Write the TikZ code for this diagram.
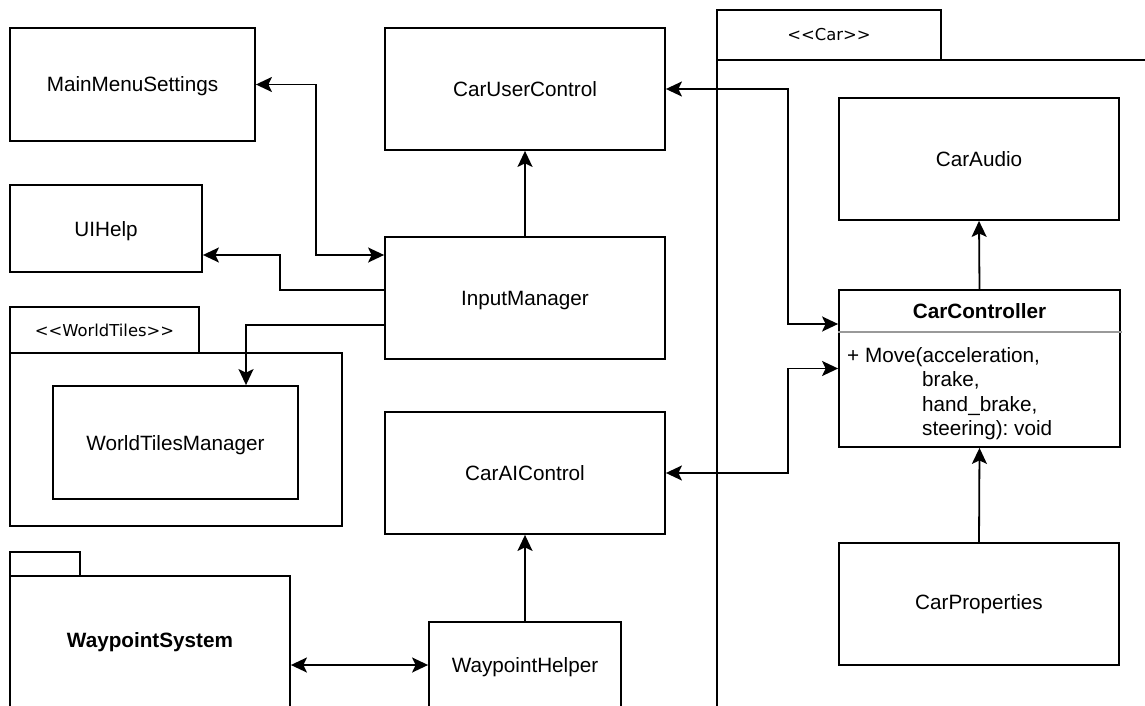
\documentclass[tikz,border=0pt]{standalone}
\usepackage{fontspec}
\setmainfont{Liberation Sans}
\newfontfamily\pkgfont{DejaVu Sans}
\usetikzlibrary{arrows.meta}
\tikzset{
  txt/.style={font=\fontsize{20.7pt}{24.5pt}\selectfont},
  boldtxt/.style={font=\fontsize{20.7pt}{24.5pt}\selectfont\bfseries},
  pkgtxt/.style={font=\pkgfont\fontsize{16.4pt}{19pt}\selectfont},
  box/.style={draw=black, line width=1.8pt, rectangle, inner sep=0pt, txt},
  lbl/.style={inner sep=0pt, txt},
  bigtip/.tip={Stealth[length=16pt,width=15pt,inset=3.5pt]},
  sgl/.style={draw=black, line width=1.8pt, arrows={-bigtip}},
  dbl/.style={draw=black, line width=1.8pt, arrows={bigtip-bigtip}}
}
\begin{document}
\begin{tikzpicture}[x=1pt,y=-1pt]
\useasboundingbox (0,0) rectangle (1145,706);
\clip (0,0) rectangle (1145,706);
\fill[white] (0,0) rectangle (1145,706);

% Car package
\node[box, pkgtxt, minimum width=224pt, minimum height=50pt] (cartab) at (829,35) {<{}<Car>{}>};
\node[box, minimum width=443pt, minimum height=670pt] (carbody) at (938.5,395) {};

% left boxes
\node[box, minimum width=245pt, minimum height=113pt, text depth=0pt] (mms) at (132.5,84.5) {MainMenuSettings};
\node[box, minimum width=192pt, minimum height=87pt, text depth=0pt] (uih) at (106,228.5) {UIHelp};
\node[box, minimum width=280pt, minimum height=122pt] (cuc) at (525,89) {CarUserControl};
\node[box, minimum width=280pt, minimum height=122pt, text depth=0pt] (im) at (525,298) {InputManager};
\node[box, minimum width=280pt, minimum height=122pt] (caic) at (525,473) {CarAIControl};
\node[box, minimum width=192pt, minimum height=86pt, text depth=0pt] (wph) at (525,665) {WaypointHelper};

% WorldTiles package
\node[box, pkgtxt, minimum width=189pt, minimum height=46pt] (wttab) at (104.5,330) {<{}<WorldTiles>{}>};
\node[box, minimum width=332pt, minimum height=173pt] (wtbody) at (176,439.5) {};
\node[box, minimum width=245pt, minimum height=113pt, text depth=0pt] (wtm) at (175.5,442.5) {WorldTilesManager};

% WaypointSystem package
\node[box, minimum width=70pt, minimum height=24pt] (wstab) at (45,564) {};
\node[box, minimum width=280pt, minimum height=154pt] (wps) at (150,653) {};
\node[lbl, boldtxt, text depth=0pt] (wpslbl) at (150,640) {WaypointSystem};

% Car contents
\node[box, minimum width=280pt, minimum height=122pt] (caud) at (979,159) {CarAudio};
\node[box, minimum width=281pt, minimum height=157pt] (cc) at (979.5,368.5) {};
\node[lbl, boldtxt] (cctitle) at (979.5,311) {CarController};
\coordinate (ccsep) at (979.5,332);
\draw[draw=black!40, line width=1.2pt] (cc.west |- ccsep) -- ([xshift=1.5pt]cc.east |- ccsep);
\node[lbl, anchor=base west] (m1) at (847,362) {+ Move(acceleration,};
\node[lbl, anchor=base west] (m2) at (922,386.5) {brake,};
\node[lbl, anchor=base west] (m3) at (922,411) {hand\_brake,};
\node[lbl, anchor=base west] (m4) at (922,435.5) {steering):\ void};
\node[box, minimum width=280pt, minimum height=122pt] (cprop) at (979,604) {CarProperties};

% connectors
\draw[dbl] (mms.east) -- ++(60,0) |- ([yshift=43pt]im.west);
\draw[sgl] ([yshift=8pt]im.west) -- ++(-104,0) |- ([yshift=-26.5pt]uih.east);
\draw[sgl] ([yshift=-27pt]im.west) -| ([xshift=70.5pt]wtm.north);
\draw[sgl] (im.north) -- (cuc.south);
\draw[dbl] (cuc.east) -- ++(122,0) |- ([yshift=44.5pt]cc.west);
\draw[dbl] (caic.east) -- ++(122,0) |- (cc.west);
\draw[sgl] (cc.north) -- (caud.south);
\draw[sgl] (cprop.north) -- (cc.south);
\draw[dbl] (wps.east |- wph.west) -- (wph.west);
\draw[sgl] (wph.north) -- (caic.south);
\end{tikzpicture}
\end{document}
